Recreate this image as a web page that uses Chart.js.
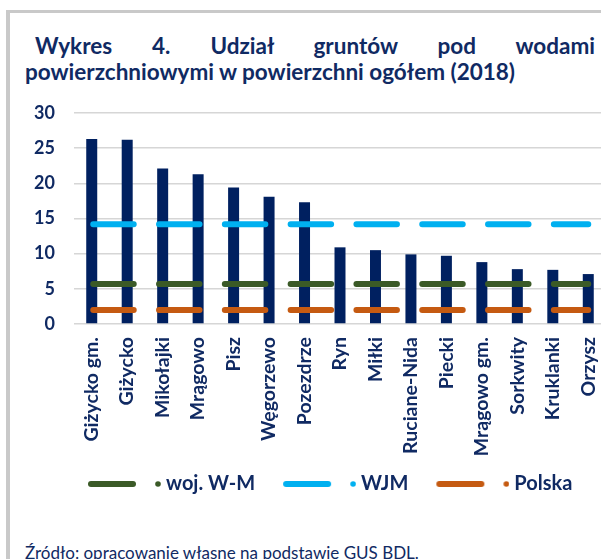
<!DOCTYPE html>
<html lang="pl">
<head>
<meta charset="utf-8">
<script src="https://cdn.jsdelivr.net/npm/chart.js@4.4.1/dist/chart.umd.min.js"></script>
<style>
  html, body { margin: 0; padding: 0; width: 601px; height: 559px; overflow: hidden; background: #fff; }
  .frame { position: absolute; left: 6px; top: 10px; width: 700px; height: 700px; border-top: 3px solid #c9c9c9; border-left: 4px solid #c9c9c9; }
  .title { position: absolute; left: 25px; top: 33px; width: 570px; font-family: Lato, sans-serif; font-weight: bold; font-size: 22.5px; line-height: 26px; color: #102a63; }
  .title .l1 { text-align: justify; text-align-last: justify; padding-left: 10px; }
  .source { position: absolute; left: 25px; top: 542px; font: 17px Lato, sans-serif; color: #102a63; white-space: nowrap; }
  #chart { position: absolute; left: 0; top: 95px; }
</style>
</head>
<body>
<div class="frame"></div>
<div class="title">
  <div class="l1">Wykres 4. Udział gruntów pod wodami</div>
  <div>powierzchniowymi w powierzchni ogółem (2018)</div>
</div>
<canvas id="chart" width="606" height="430"></canvas>
<div class="source">Źródło: opracowanie własne na podstawie GUS BDL.</div>
<script>
const categories = ['Giżycko gm.', 'Giżycko', 'Mikołajki', 'Mrągowo', 'Pisz', 'Węgorzewo', 'Pozezdrze',
  'Ryn', 'Miłki', 'Ruciane-Nida', 'Piecki', 'Mrągowo gm.', 'Sorkwity', 'Kruklanki', 'Orzysz'];
const shareValues = [26.3, 26.2, 22.1, 21.3, 19.4, 18.1, 17.3, 10.9, 10.5, 9.9, 9.7, 8.8, 7.8, 7.7, 7.1];
const wojWMValues = [5.7, 5.7, 5.7, 5.7, 5.7, 5.7, 5.7, 5.7, 5.7, 5.7, 5.7, 5.7, 5.7, 5.7, 5.7];
const wjmValues = [14.2, 14.2, 14.2, 14.2, 14.2, 14.2, 14.2, 14.2, 14.2, 14.2, 14.2, 14.2, 14.2, 14.2, 14.2];
const polskaValues = [2.0, 2.0, 2.0, 2.0, 2.0, 2.0, 2.0, 2.0, 2.0, 2.0, 2.0, 2.0, 2.0, 2.0, 2.0];
const yMin = 0;
const yMax = 30;
const yStep = 5;

const colors = {
  navy: '#002060',
  text: '#102a63',
  green: '#3b5a27',
  blue: '#00b0f0',
  orange: '#c55a11',
  grid: '#d6d6d6'
};

// legend sample: thick line, small gap, dot (like the Excel legend)
function legendSample(color) {
  const c = document.createElement('canvas');
  c.width = 80;
  c.height = 8;
  const ctx = c.getContext('2d');
  ctx.strokeStyle = color;
  ctx.lineWidth = 6;
  ctx.lineCap = 'round';
  ctx.beginPath();
  ctx.moveTo(10, 4);
  ctx.lineTo(52, 4);
  ctx.stroke();
  ctx.fillStyle = color;
  ctx.beginPath();
  ctx.arc(77, 4, 2.8, 0, Math.PI * 2);
  ctx.fill();
  return c;
}

function dashedLine(label, values, color) {
  return {
    type: 'line',
    label: label,
    data: values,
    borderColor: color,
    backgroundColor: color,
    borderWidth: 6,
    borderCapStyle: 'round',
    borderDash: [40.5, 25.3],
    borderDashOffset: 64.3,
    pointRadius: 0,
    fill: false,
    order: 0,
    legendSample: legendSample(color)
  };
}

// the legend sits lower and further right than Chart.js would put it
const legendPlacement = {
  id: 'legendPlacement',
  afterLayout(chart) {
    chart.legend.left = 60;
    chart.legend.right = 900;
    chart.legend.top = 353;
  }
};

// no extra room for tick labels around the plot area
function noScalePadding(scale) {
  scale.paddingTop = 0;
  scale.paddingBottom = 0;
  scale.paddingLeft = 0;
  scale.paddingRight = 0;
}

new Chart(document.getElementById('chart'), {
  type: 'bar',
  data: {
    labels: categories,
    datasets: [
      dashedLine('woj. W-M', wojWMValues, colors.green),
      dashedLine('WJM', wjmValues, colors.blue),
      dashedLine('Polska', polskaValues, colors.orange),
      {
        type: 'bar',
        label: 'Udział',
        data: shareValues,
        backgroundColor: colors.navy,
        categoryPercentage: 1,
        barPercentage: 0.31,
        order: 1
      }
    ]
  },
  plugins: [legendPlacement],
  options: {
    responsive: false,
    animation: false,
    layout: { padding: { left: 30, top: 18, right: 0, bottom: 0 } },
    plugins: {
      tooltip: { enabled: false },
      legend: {
        position: 'bottom',
        align: 'start',
        labels: {
          usePointStyle: true,
          pointStyleWidth: 70,
          padding: 26,
          color: colors.text,
          font: { family: 'Lato', weight: 'bold', size: 20 },
          generateLabels(chart) {
            const items = Chart.defaults.plugins.legend.labels.generateLabels(chart);
            return items
              .filter(item => chart.data.datasets[item.datasetIndex].type === 'line')
              .map(item => {
                item.pointStyle = chart.data.datasets[item.datasetIndex].legendSample;
                return item;
              });
          }
        }
      }
    },
    scales: {
      x: {
        grid: { display: false, drawTicks: false },
        border: { display: false },
        ticks: {
          color: colors.text,
          font: { family: 'Lato', weight: 'bold', size: 19.5 },
          minRotation: 90,
          maxRotation: 90,
          autoSkip: false,
          padding: 13
        },
        afterFit(scale) {
          scale.height = 145;
          noScalePadding(scale);
        }
      },
      y: {
        min: yMin,
        max: yMax,
        grid: { color: colors.grid, lineWidth: 1.5, drawTicks: false },
        border: { display: false },
        ticks: {
          stepSize: yStep,
          color: colors.text,
          font: { family: 'Lato', weight: 'bold', size: 18 },
          padding: 19
        },
        afterFit(scale) {
          scale.width = 44;
          noScalePadding(scale);
        }
      }
    }
  }
});
</script>
</body>
</html>
